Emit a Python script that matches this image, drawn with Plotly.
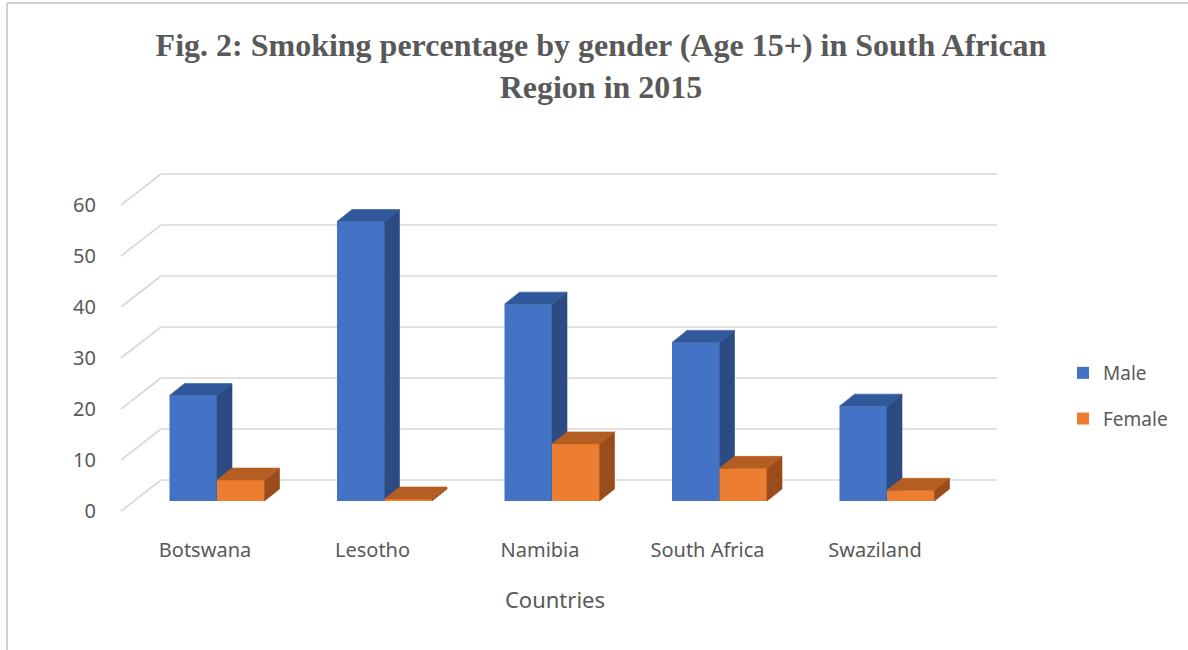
import plotly.graph_objects as go

# Smoking prevalence (%) among people aged 15+, 2015
countries = ["Botswana", "Lesotho", "Namibia", "South Africa", "Swaziland"]
male = [20.7, 54.8, 38.6, 31.1, 18.6]
female = [4.1, 0.4, 11.2, 6.4, 2.1]
y_ticks = [0, 10, 20, 30, 40, 50, 60]

# ---- page geometry (pixels) ----
W, H = 1188, 650
L, R, T, B = 100, 1010, 150, 530          # plot area edges
CAT0_PX, CAT_PX = 205, 167.5              # front-plane x of first category, px per category
ZERO_PX, UNIT_PX = 511, 5.1               # front-plane y of value 0, px per value unit

FLOOR = (40, 31)        # depth of the floor / side wall (right, up)
BAR_SHIFT = (12, 10)    # bars stand a little behind the front plane
BOX = (15, 12)          # depth of each 3-D bar
BAR_W = 47.5            # bar width
WALL_FRONT_PX = 121     # x where each floor diagonal starts
WALL_END_PX = 997       # x where back-wall gridlines end

GRID = "#D9D9D9"
TEXT = "#595959"


def cx(px):
    """horizontal pixel distance -> category units"""
    return px / CAT_PX


def vy(px):
    """vertical pixel distance -> value units"""
    return px / UNIT_PX


x_range = [cx(L - CAT0_PX), cx(R - CAT0_PX)]
y_range = [vy(ZERO_PX - B), vy(ZERO_PX - T)]

series = [
    dict(name="Male", values=male, front="#4472C4", side="#2C4B82", top="#30599B",
         left=BAR_SHIFT[0] - BAR_W, xa="x", ya="y"),
    dict(name="Female", values=female, front="#ED7D31", side="#9A4D1B", top="#B55E22",
         left=BAR_SHIFT[0], xa="x2", ya="y2"),
]

fig = go.Figure()
base = vy(BAR_SHIFT[1])
ddx, ddy = cx(BOX[0]), vy(BOX[1])

for k, s in enumerate(series):
    xs = list(range(len(countries)))
    # front faces
    fig.add_trace(go.Bar(
        x=xs, y=s["values"], base=base, offset=cx(s["left"]), width=cx(BAR_W),
        name=s["name"], marker=dict(color=s["front"], line=dict(width=0)),
        xaxis=s["xa"], yaxis=s["ya"], legendgroup=s["name"],
        customdata=[[c, v] for c, v in zip(countries, s["values"])],
        hovertemplate="%{customdata[0]}: %{customdata[1]}%<extra>" + s["name"] + "</extra>",
        textposition="none",
    ))
    # side and top faces of each bar
    side_x, side_y, top_x, top_y = [], [], [], []
    for i, v in enumerate(s["values"]):
        xl = i + cx(s["left"])
        xr = xl + cx(BAR_W)
        b, t = base, base + v
        side_x += [xr, xr + ddx, xr + ddx, xr, xr, None]
        side_y += [b, b + ddy, t + ddy, t, b, None]
        top_x += [xl, xr, xr + ddx, xl + ddx, xl, None]
        top_y += [t, t, t + ddy, t + ddy, t, None]
    for fx, fy, col in [(side_x, side_y, s["side"]), (top_x, top_y, s["top"])]:
        fig.add_trace(go.Scatter(
            x=fx, y=fy, mode="lines", fill="toself", fillcolor=col,
            line=dict(color=col, width=0.6), hoverinfo="skip", showlegend=False,
            xaxis=s["xa"], yaxis=s["ya"],
        ))

# back-wall gridlines with their floor diagonals
for t in y_ticks:
    x_front = cx(WALL_FRONT_PX - CAT0_PX)
    x_back = cx(WALL_FRONT_PX + FLOOR[0] - CAT0_PX)
    x_end = cx(WALL_END_PX - CAT0_PX)
    y_back = t + vy(FLOOR[1])
    fig.add_shape(type="line", xref="x", yref="y", x0=x_front, y0=t, x1=x_back, y1=y_back,
                  line=dict(color=GRID, width=1.6), layer="below")
    fig.add_shape(type="line", xref="x", yref="y", x0=x_back, y0=y_back, x1=x_end, y1=y_back,
                  line=dict(color=GRID, width=1.6), layer="below")

# chart border (top and left edges)
pw, ph = R - L, B - T
fig.add_shape(type="line", xref="paper", yref="paper",
              x0=(7 - L) / pw, y0=(B - 3) / ph, x1=(W + 5 - L) / pw, y1=(B - 3) / ph,
              line=dict(color="#D0D0D0", width=2))
fig.add_shape(type="line", xref="paper", yref="paper",
              x0=(7 - L) / pw, y0=(B - 3) / ph, x1=(7 - L) / pw, y1=(B - H - 10) / ph,
              line=dict(color="#D0D0D0", width=2))

tick_font = dict(family="Noto Sans", size=20, color=TEXT)

fig.update_layout(
    width=W, height=H,
    margin=dict(l=L, r=W - R, t=T, b=H - B, pad=0),
    paper_bgcolor="white", plot_bgcolor="rgba(0,0,0,0)",
    barmode="overlay",
    title=dict(
        text="<b>Fig. 2: Smoking percentage by gender (Age 15+) in South African<br>Region in 2015</b>",
        font=dict(family="Liberation Serif", size=32, color=TEXT),
        x=601 / W, xanchor="center", y=1 - 56 / H, yanchor="top",
    ),
    xaxis=dict(
        range=x_range, tickvals=list(range(len(countries))), ticktext=countries,
        showgrid=False, zeroline=False, showline=False, ticks="",
        tickfont=tick_font, ticklabelstandoff=6,
        title=dict(text="Countries", font=dict(family="Noto Sans", size=22, color=TEXT), standoff=30),
    ),
    yaxis=dict(
        range=y_range, tickvals=y_ticks, showgrid=False, zeroline=False, showline=False,
        ticks="", tickfont=tick_font, ticklabelstandoff=3,
    ),
    xaxis2=dict(range=x_range, overlaying="x", visible=False),
    yaxis2=dict(range=y_range, overlaying="y", visible=False),
    legend=dict(
        x=(1063 - L) / pw, xanchor="left", y=(B - 354) / ph, yanchor="top",
        font=dict(family="Noto Sans", size=19, color=TEXT),
        traceorder="grouped", tracegroupgap=18, bgcolor="rgba(0,0,0,0)",
    ),
    showlegend=True,
)

fig.write_html("out.html")
